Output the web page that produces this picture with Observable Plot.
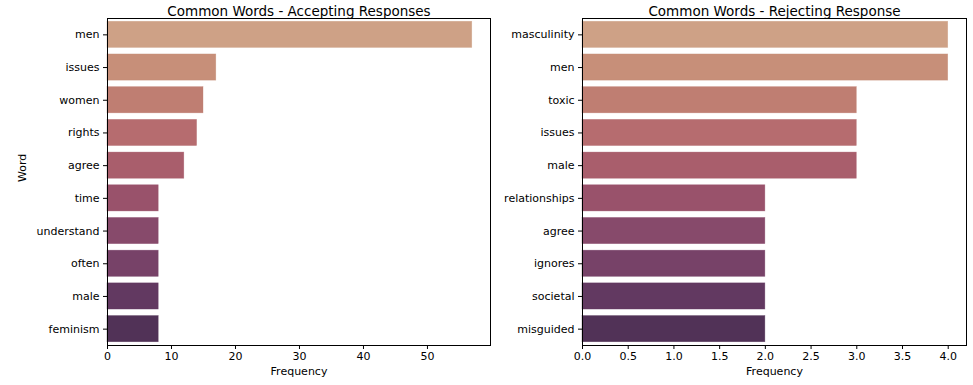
<!DOCTYPE html>
<html>
<head>
<meta charset="utf-8">
<script src="https://cdn.jsdelivr.net/npm/d3@7"></script>
<script src="https://cdn.jsdelivr.net/npm/@observablehq/plot@0.6"></script>
<style>
  html, body { margin: 0; padding: 0; background: #fff; }
  #wrap { display: flex; width: 973px; height: 385px; overflow: hidden; }
  #wrap svg { overflow: visible; flex: none; }
</style>
</head>
<body>
<div id="wrap"></div>
<script>
const accWords = ["men", "issues", "women", "rights", "agree", "time", "understand", "often", "male", "feminism"];
const accCounts = [57, 17, 15, 14, 12, 8, 8, 8, 8, 8];
const rejWords = ["masculinity", "men", "toxic", "issues", "male", "relationships", "agree", "ignores", "societal", "misguided"];
const rejCounts = [4, 4, 3, 3, 3, 2, 2, 2, 2, 2];
const accTicks = [0, 10, 20, 30, 40, 50];
const rejTicks = [0, 0.5, 1, 1.5, 2, 2.5, 3, 3.5, 4];
const palette = ["#cea186", "#c78f79", "#bf7e72", "#b66c6f", "#a95e6c", "#99526b", "#874a6b", "#774268", "#623961", "#513257"];
const titles = ["Common Words - Accepting Responses", "Common Words - Rejecting Response"];

function panel({words, counts, ticks, fmt, title, width, marginLeft, marginRight, yLabel}) {
  const data = words.map((w, i) => ({word: w, count: counts[i]}));
  const marks = [
    Plot.barX(data, {x: "count", y: "word", fill: "word", stroke: "word", strokeWidth: 0.6, strokeOpacity: 0.6}),
    Plot.axisX({ticks, tickSize: 4, tickPadding: 3, tickFormat: fmt, label: null, fontSize: 11}),
    Plot.axisY({tickSize: 4, tickPadding: 4, label: null, fontSize: 11}),
    Plot.frame({stroke: "#000", strokeWidth: 1}),
    Plot.text([title], {frameAnchor: "top", dy: -12, fontSize: 13.5, fill: "#000"}),
    Plot.text(["Frequency"], {frameAnchor: "bottom", dy: 29, fontSize: 11, fill: "#000"})
  ];
  if (yLabel) marks.push(Plot.text([yLabel], {frameAnchor: "left", dx: -85, rotate: -90, fontSize: 11, fill: "#000"}));
  return Plot.plot({
    width, height: 385,
    marginLeft, marginRight, marginTop: 18, marginBottom: 40,
    style: {fontFamily: "DejaVu Sans", fontSize: "11px", background: "transparent", color: "#000"},
    x: {domain: [0, d3.max(counts) * 1.05]},
    y: {domain: words, paddingInner: 0.2, paddingOuter: 0.1, round: false},
    color: {type: "ordinal", domain: words, range: palette},
    marks
  });
}

const wrap = document.getElementById("wrap");
wrap.appendChild(panel({words: accWords, counts: accCounts, ticks: accTicks, fmt: d3.format("d"), title: titles[0], width: 495, marginLeft: 107, marginRight: 5, yLabel: "Word"}));
wrap.appendChild(panel({words: rejWords, counts: rejCounts, ticks: rejTicks, fmt: d3.format(".1f"), title: titles[1], width: 478, marginLeft: 87, marginRight: 7, yLabel: null}));
</script>
</body>
</html>
